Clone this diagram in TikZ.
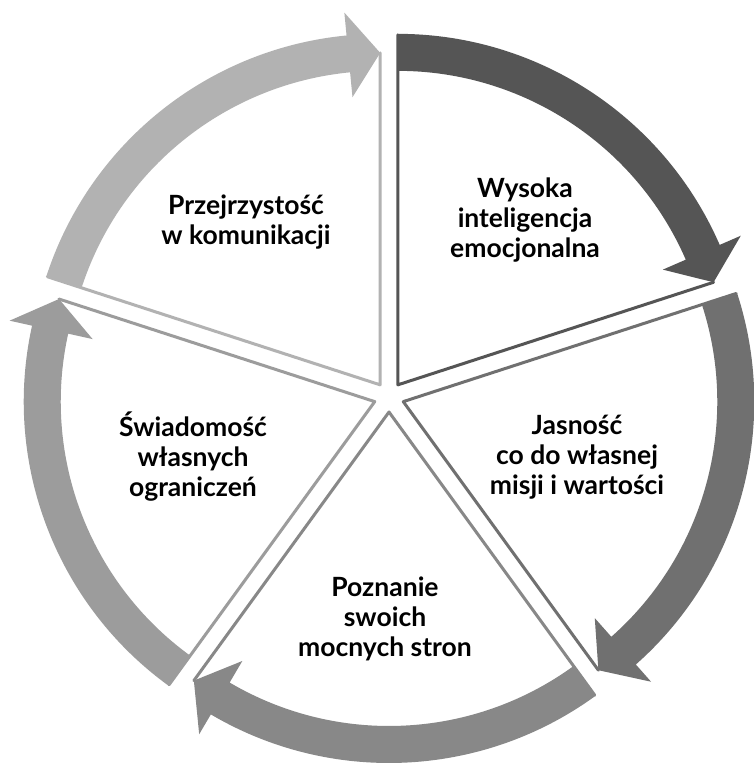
\documentclass[tikz,border=0pt]{standalone}
\usepackage{fontspec}
\setmainfont{Lato}
\definecolor{cTL}{HTML}{B2B2B2}
\definecolor{cTR}{HTML}{555555}
\definecolor{cR}{HTML}{707070}
\definecolor{cB}{HTML}{888888}
\definecolor{cL}{HTML}{9C9C9C}
\tikzset{
  lbl/.style={align=center,text=black,font=\fontsize{26.5}{30}\selectfont\bfseries,inner sep=0pt},
  edge/.style={line width=3pt,line join=round,line cap=round},
}
\newcommand{\mysector}[3]{%
  \begin{scope}[shift={(389,368)},rotate=#1]
    \begin{scope}[shift={(15,0)}]
      \coordinate (#3-apex) at (0,0);
      \coordinate (#3-start) at (36:350pt);
      \coordinate (#3-tip) at (-36:332pt);
      \fill[#2] (36:351pt) arc[start angle=36,end angle=-30.5,radius=351pt]
        -- (-30.5:374pt) -- (#3-tip) -- (-30.5:289pt) -- (-30.5:314pt)
        arc[start angle=-30.5,end angle=36,radius=314pt] -- cycle;
      \draw[edge,#2] (#3-start) -- (#3-apex) -- (#3-tip);
    \end{scope}
  \end{scope}}
\begin{document}
\begin{tikzpicture}[x=1pt,y=1pt]
\useasboundingbox (0,0) rectangle (754,765);
\fill[white] (0,0) rectangle (754,765);
\mysector{126}{cTL}{tl}
\mysector{54}{cTR}{tr}
\mysector{-18}{cR}{r}
\mysector{-90}{cB}{b}
\mysector{198}{cL}{l}
\node[lbl] (t1) at (246,543) {Przejrzystość\\w komunikacji};
\node[lbl] (t2) at (525,545) {Wysoka\\inteligencja\\emocjonalna};
\node[lbl] (t3) at (577,308) {Jasność\\co do własnej\\misji i wartości};
\node[lbl] (t4) at (385,146) {Poznanie\\swoich\\mocnych stron};
\node[lbl] (t5) at (193,308) {Świadomość\\własnych\\ograniczeń};
\end{tikzpicture}
\end{document}
